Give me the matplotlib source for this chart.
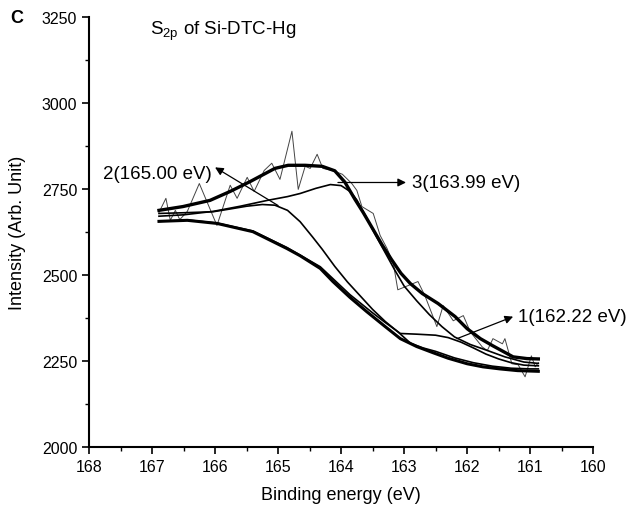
import numpy as np
import matplotlib
matplotlib.use('Agg')
import matplotlib.pyplot as plt
from matplotlib.ticker import MultipleLocator

plt.rcParams['font.family'] = ['Liberation Sans', 'DejaVu Sans']

# raw spectrum (noisy)
raw_e = [166.89, 166.78, 166.71, 166.63, 166.56, 166.44, 166.25, 165.97, 165.76, 165.65,
         165.49, 165.38, 165.22, 165.10, 164.97, 164.78, 164.68, 164.57, 164.49, 164.38,
         164.29, 164.14, 163.98, 163.83, 163.75, 163.67, 163.49, 163.38, 163.27, 163.17,
         163.10, 162.98, 162.78, 162.67, 162.48, 162.38, 162.22, 162.06, 161.95, 161.76,
         161.68, 161.59, 161.44, 161.40, 161.29, 161.19, 161.08, 160.98, 160.92, 160.87]
raw_i = [2682, 2723, 2659, 2688, 2661, 2685, 2766, 2644, 2761, 2723,
         2784, 2743, 2804, 2825, 2778, 2918, 2749, 2816, 2810, 2851,
         2810, 2804, 2793, 2766, 2746, 2699, 2679, 2615, 2577, 2533,
         2457, 2466, 2481, 2440, 2350, 2411, 2367, 2382, 2335, 2291,
         2280, 2315, 2300, 2315, 2242, 2239, 2204, 2265, 2233, 2245]

# fitted envelope
env_e = [166.89, 166.51, 166.08, 165.76, 165.44, 165.05, 164.84, 164.57, 164.30, 164.10,
         163.94, 163.78, 163.65, 163.50, 163.35, 163.20, 163.05, 162.90, 162.71, 162.46,
         162.19, 162.00, 161.79, 161.59, 161.27, 161.05, 160.87]
env_i = [2688, 2699, 2717, 2743, 2772, 2810, 2819, 2819, 2816, 2803,
         2770, 2720, 2682, 2635, 2588, 2545, 2505, 2475, 2446, 2417,
         2379, 2344, 2315, 2294, 2262, 2257, 2256]

# component 3 (163.99 eV)
p3_e = [166.89, 166.50, 166.03, 165.60, 165.17, 164.85, 164.65, 164.40, 164.17, 164.00,
        163.85, 163.75, 163.60, 163.45, 163.30, 163.15, 163.00, 162.80, 162.60, 162.40,
        162.20, 161.95, 161.70, 161.40, 161.10, 160.87]
p3_i = [2671, 2675, 2685, 2700, 2717, 2728, 2737, 2752, 2763, 2760,
        2742, 2718, 2668, 2615, 2565, 2515, 2468, 2425, 2385, 2350,
        2320, 2298, 2282, 2262, 2247, 2243]

# component 2 (165.00 eV)
p2_e = [166.89, 166.50, 166.03, 165.76, 165.50, 165.25, 165.05, 164.85, 164.65, 164.45,
        164.30, 164.10, 163.90, 163.70, 163.50, 163.30, 163.10, 162.90, 162.70, 162.50,
        162.20, 161.90, 161.60, 161.30, 161.00, 160.87]
p2_i = [2679, 2681, 2684, 2692, 2700, 2705, 2703, 2688, 2655, 2610,
        2575, 2525, 2480, 2440, 2400, 2365, 2335, 2302, 2288, 2278,
        2259, 2245, 2235, 2229, 2227, 2227]

# component 1 (162.22 eV)
p1_e = [166.89, 166.44, 165.97, 165.40, 164.86, 164.33, 163.86, 163.50, 163.30, 163.06,
        162.80, 162.50, 162.30, 162.10, 161.90, 161.70, 161.50, 161.30, 161.10, 160.87]
p1_i = [2656, 2660, 2651, 2628, 2580, 2524, 2443, 2390, 2362, 2330,
        2328, 2325, 2318, 2305, 2288, 2270, 2256, 2245, 2238, 2236]

# background
bg_e = [166.89, 166.44, 165.97, 165.40, 164.86, 164.65, 164.33, 164.13, 163.86, 163.59,
        163.30, 163.06, 162.80, 162.54, 162.30, 162.00, 161.75, 161.48, 161.20, 160.87]
bg_i = [2656, 2659, 2650, 2626, 2577, 2556, 2519, 2481, 2435, 2393,
        2350, 2315, 2292, 2274, 2258, 2242, 2233, 2227, 2222, 2220]

fig = plt.figure(figsize=(6.27, 5.10), dpi=100)
ax = fig.add_axes([0.142, 0.1216, 0.804, 0.843])

ax.plot(raw_e, raw_i, color='#444444', lw=0.7)
ax.plot(bg_e, bg_i, color='black', lw=2.2)
ax.plot(p1_e, p1_i, color='black', lw=1.2)
ax.plot(p2_e, p2_i, color='black', lw=1.2)
ax.plot(p3_e, p3_i, color='black', lw=1.2)
ax.plot(env_e, env_i, color='black', lw=2.4)

arrow = dict(arrowstyle='-|>', color='black', lw=0.9, mutation_scale=12, shrinkA=0, shrinkB=0)
ax.annotate('', xy=(166.0, 2813), xytext=(165.0, 2702), arrowprops=arrow)
ax.text(166.06, 2796, '2(165.00 eV)', ha='right', va='center', fontsize=13.5)
ax.annotate('', xy=(162.97, 2769), xytext=(164.05, 2769), arrowprops=arrow)
ax.text(162.88, 2769, '3(163.99 eV)', ha='left', va='center', fontsize=13.5)
ax.annotate('', xy=(161.27, 2379), xytext=(162.16, 2315), arrowprops=arrow)
ax.text(161.19, 2379, '1(162.22 eV)', ha='left', va='center', fontsize=13.5)

ax.text(167.03, 3212, 'S$_{\\mathregular{2p}}$ of Si-DTC-Hg', ha='left', va='center', fontsize=13.5)
fig.text(0.016, 0.963, 'C', fontsize=13, fontweight='bold', va='center')

ax.set_xlim(168, 160)
ax.set_ylim(2000, 3250)
ax.xaxis.set_major_locator(MultipleLocator(1))
ax.xaxis.set_minor_locator(MultipleLocator(0.5))
ax.yaxis.set_major_locator(MultipleLocator(250))
ax.yaxis.set_minor_locator(MultipleLocator(125))
ax.spines['top'].set_visible(False)
ax.spines['right'].set_visible(False)
for s in ['left', 'bottom']:
    ax.spines[s].set_linewidth(1.5)
ax.tick_params(which='major', direction='out', length=5, width=1.2, labelsize=11.5)
ax.tick_params(which='minor', direction='out', length=3, width=1.0)
ax.set_xlabel('Binding energy (eV)', fontsize=13, labelpad=9)
ax.set_ylabel('Intensity (Arb. Unit)', fontsize=13, labelpad=11)

fig.savefig('out.png', dpi=100)
